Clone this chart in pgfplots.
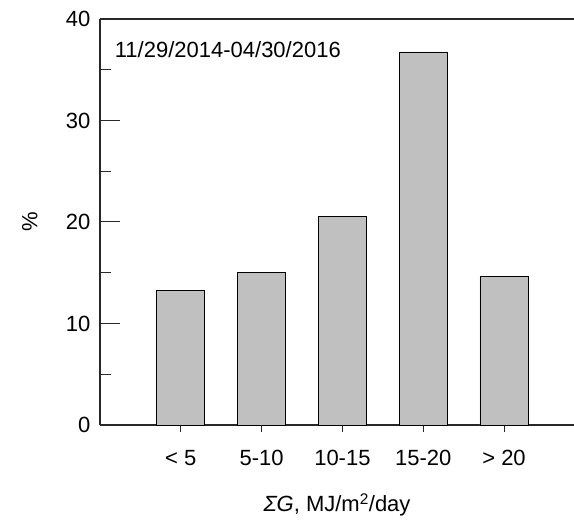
\documentclass[border=0pt]{standalone}
\usepackage{fontspec}
\setmainfont{Liberation Sans}
\usepackage{pgfplots}
\pgfplotsset{compat=1.18}
\definecolor{barfill}{RGB}{192,192,192}
\definecolor{axcol}{RGB}{40,40,40}
\newcommand{\bigf}{\fontsize{22bp}{26bp}\selectfont}
\begin{document}
\bigf
\begin{tikzpicture}
\begin{axis}[
  at={(0,0)}, anchor=south west,
  scale only axis,
  width=474bp, height=406bp,
  xmin=0, xmax=5.866, ymin=0, ymax=40,
  axis x line*=bottom, axis y line*=left,
  axis line style={axcol, line width=1.3bp},
  every axis x line/.append style={-}, every axis y line/.append style={-},
  xtick={1,2,3,4,5},
  xticklabels={{< 5},{5-10},{10-15},{15-20},{> 20}},
  x tick style={axcol, line width=1bp},
  xtick align=outside,
  ytick={0,10,20,30,40},
  minor ytick={5,15,25,35},
  ytick align=inside,
  y tick style={axcol, line width=1bp},
  major tick length=20bp, minor tick length=11bp,
  x tick style={/pgfplots/major tick length=7bp},
  /pgf/number format/assume math mode=true,
  ticklabel style={font=\bigf},
  xticklabel style={yshift=2bp},
  yticklabel style={xshift=-2bp},
  label style={font=\bigf},
  xlabel={\textit{ΣG}, MJ/m\textsuperscript{2}/day},
  ylabel={\%},
  xlabel style={at={(axis description cs:0.5,-0.197)}, anchor=center},
  ylabel style={at={(axis description cs:-0.148,0.5)}, anchor=center},
  clip=false,
]
\addplot[ybar, bar width=0.595, fill=barfill, draw=black, line width=0.9bp]
  coordinates {(1,13.3) (2,15.0) (3,20.5) (4,36.75) (5,14.6)};
\draw[axcol, line width=1.3bp] (rel axis cs:0,1) -- (rel axis cs:1,1);
\node[anchor=west, inner sep=0pt] at (axis description cs:0.031,0.924) {11/29/2014-04/30/2016};
\end{axis}
\pgfresetboundingbox
\path[use as bounding box] (-100bp,-100bp) rectangle (474bp,19bp+406bp);
\end{tikzpicture}
\end{document}
